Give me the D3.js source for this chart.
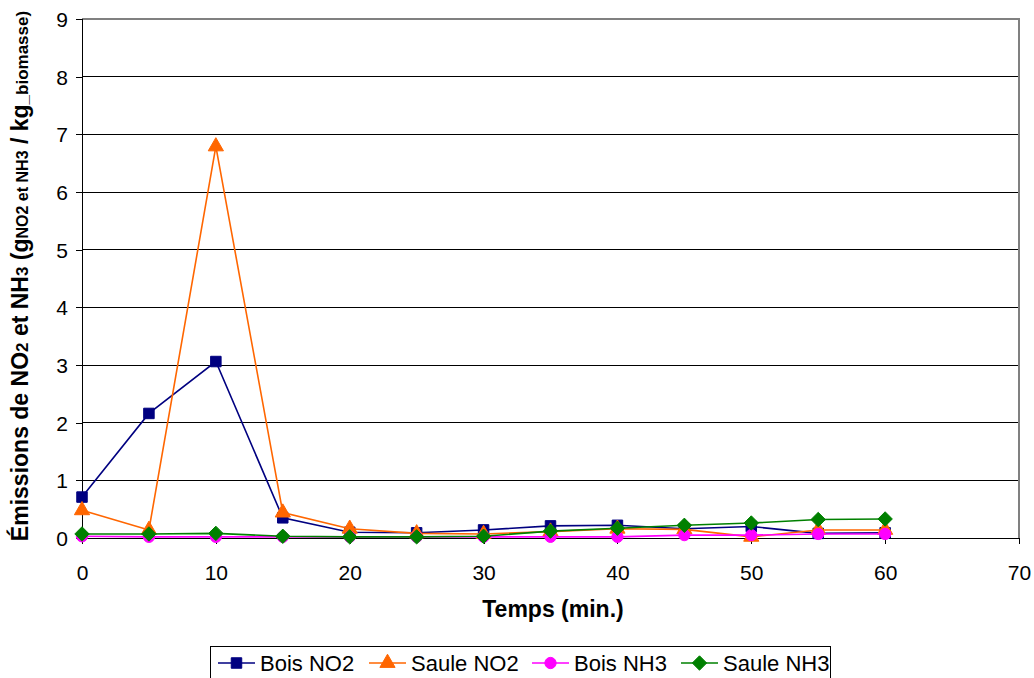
<!DOCTYPE html>
<html>
<head>
<meta charset="utf-8">
<script src="https://cdn.jsdelivr.net/npm/d3@7"></script>
<style>
  html, body { margin: 0; padding: 0; background: #fff; }
  svg { display: block; font-family: "Liberation Sans", Arial, sans-serif; }
</style>
</head>
<body>
<svg id="chart" width="1034" height="678"></svg>
<script>
// Time steps (minutes)
const temps = [0, 5, 10, 15, 20, 25, 30, 35, 40, 45, 50, 55, 60];

// Emissions (g / kg biomasse)
const boisNO2  = [0.71, 2.16, 3.06, 0.35, 0.10, 0.09, 0.14, 0.21, 0.22, 0.16, 0.20, 0.08, 0.09];
const sauleNO2 = [0.48, 0.14, 6.79, 0.44, 0.16, 0.08, 0.07, 0.11, 0.16, 0.15, 0.02, 0.14, 0.14];
const boisNH3  = [0.03, 0.02, 0.02, 0.02, 0.02, 0.02, 0.02, 0.02, 0.02, 0.05, 0.05, 0.07, 0.07];
const sauleNH3 = [0.07, 0.07, 0.08, 0.03, 0.02, 0.02, 0.03, 0.12, 0.17, 0.22, 0.26, 0.32, 0.33];

const xTicks = [0, 10, 20, 30, 40, 50, 60, 70];
const yTicks = [0, 1, 2, 3, 4, 5, 6, 7, 8, 9];

// Square rotated 45° (wider than d3's built-in diamond)
const symbolRhombus = {
  draw(ctx, size) {
    const r = Math.sqrt(size) * 0.72;
    ctx.moveTo(0, -r); ctx.lineTo(r, 0); ctx.lineTo(0, r); ctx.lineTo(-r, 0); ctx.closePath();
  }
};

const seriesNames = ["Bois NO2", "Saule NO2", "Bois NH3", "Saule NH3"];
const seriesColors = ["#000080", "#FF6600", "#FF00FF", "#008000"];
const seriesSymbols = [d3.symbolSquare, d3.symbolTriangle, d3.symbolCircle, symbolRhombus];
const symbolSizes = [110, 100, 100, 100];

const series = [boisNO2, sauleNO2, boisNH3, sauleNH3].map((vals, i) => ({
  name: seriesNames[i],
  color: seriesColors[i],
  symbol: seriesSymbols[i],
  size: symbolSizes[i],
  points: temps.map((t, j) => ({ t, v: vals[j] }))
}));

const svg = d3.select("#chart");
const plotL = 82, plotR = 1019, plotT = 19, plotB = 538;

const x = d3.scaleLinear().domain([0, 70]).range([plotL, plotR]);
const y = d3.scaleLinear().domain([0, 9]).range([plotB, plotT]);

// Horizontal gridlines
svg.append("g")
  .selectAll("line")
  .data(yTicks.filter(d => d > 0 && d < 9))
  .join("line")
  .attr("x1", plotL).attr("x2", plotR)
  .attr("y1", d => y(d)).attr("y2", d => y(d))
  .attr("stroke", "#000").attr("stroke-width", 1)
  .attr("shape-rendering", "crispEdges");

// Plot area frame (top and right)
svg.append("path")
  .attr("d", `M${plotL},${plotT}H${plotR}V${plotB}`)
  .attr("fill", "none").attr("stroke", "#808080").attr("stroke-width", 1.5)
  .attr("shape-rendering", "crispEdges");

// Axes
const xAxis = svg.append("g")
  .attr("transform", `translate(0,${plotB})`)
  .call(d3.axisBottom(x).tickValues(xTicks).tickSize(6).tickPadding(36).tickFormat(d3.format("d")));
const yAxis = svg.append("g")
  .attr("transform", `translate(${plotL},0)`)
  .call(d3.axisLeft(y).tickValues(yTicks).tickSize(6).tickPadding(8).tickFormat(d3.format("d")));

[xAxis, yAxis].forEach(g => {
  g.select(".domain").attr("stroke", "#000").attr("stroke-width", 1.5).attr("shape-rendering", "crispEdges");
  g.selectAll(".tick line").attr("stroke", "#000").attr("shape-rendering", "crispEdges");
  g.selectAll(".tick text")
    .attr("fill", "#000")
    .style("font-size", "21px")
    .style("font-family", "'Liberation Sans', Arial, sans-serif");
});
xAxis.selectAll(".tick text").attr("dy", "0");
yAxis.selectAll(".tick text").attr("dy", "0.35em");

// Series lines and markers
const line = d3.line().x(d => x(d.t)).y(d => y(d.v));
const gSeries = svg.append("g");
series.forEach(s => {
  const g = gSeries.append("g");
  g.append("path")
    .datum(s.points)
    .attr("d", line)
    .attr("fill", "none")
    .attr("stroke", s.color)
    .attr("stroke-width", 1.6);
  g.selectAll("path.mk")
    .data(s.points)
    .join("path")
    .attr("class", "mk")
    .attr("d", d3.symbol().type(s.symbol).size(s.size))
    .attr("transform", d => `translate(${x(d.t)},${y(d.v)})`)
    .attr("fill", s.color)
    .attr("stroke", s.color)
    .attr("stroke-width", 1);
});

// X axis title
svg.append("text")
  .attr("x", 553)
  .attr("y", 617)
  .attr("text-anchor", "middle")
  .style("font-size", "23px")
  .style("font-weight", "bold")
  .text("Temps (min.)");

// Y axis title with reduced-size parts
const yTitle = svg.append("text")
  .attr("transform", `translate(28,276) rotate(-90)`)
  .attr("text-anchor", "middle")
  .style("font-size", "23px")
  .style("font-weight", "bold");
const parts = [
  ["Émissions de NO", 23], ["2", 17], [" et NH", 23], ["3", 17],
  [" (g", 23], ["NO2 et NH3", 16], [" / kg", 23], ["_biomasse)", 17]
];
parts.forEach(([t, fs]) => yTitle.append("tspan").style("font-size", fs + "px").text(t));

// Legend
const legend = svg.append("g");
legend.append("rect")
  .attr("x", 210.5).attr("y", 646.5)
  .attr("width", 620).attr("height", 40)
  .attr("fill", "#fff").attr("stroke", "#000").attr("stroke-width", 1);
const itemX = [218, 369, 532, 681];
series.forEach((s, i) => {
  const gx = itemX[i], gy = 663;
  const it = legend.append("g").attr("transform", `translate(${gx},${gy})`);
  it.append("line").attr("x1", 0).attr("x2", 37).attr("y1", 0).attr("y2", 0)
    .attr("stroke", s.color).attr("stroke-width", 1.6);
  it.append("path")
    .attr("d", d3.symbol().type(s.symbol).size(s.size))
    .attr("transform", "translate(18.5,0)")
    .attr("fill", s.color).attr("stroke", s.color);
  it.append("text")
    .attr("x", 42).attr("y", 8)
    .style("font-size", "22px")
    .text(s.name);
});
</script>
</body>
</html>
